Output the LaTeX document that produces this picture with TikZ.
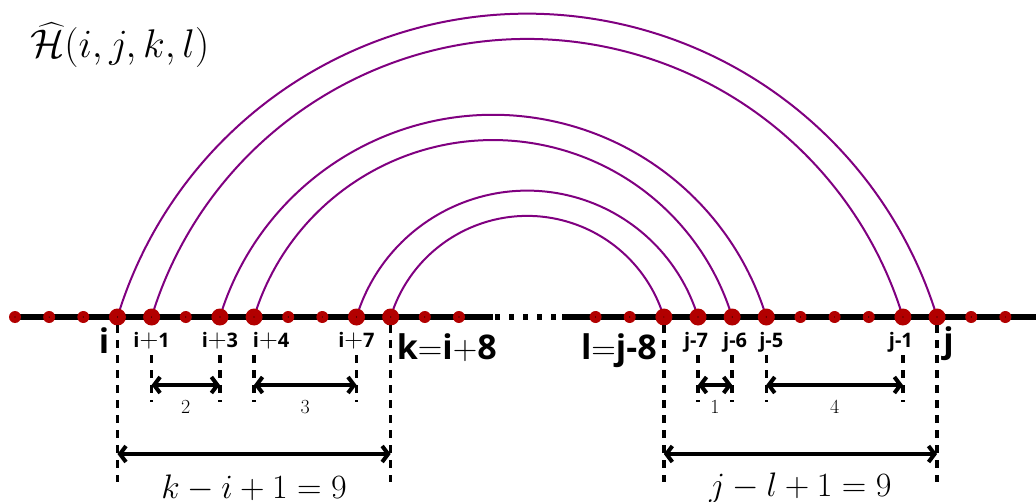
\documentclass[tikz,border=0pt]{standalone}
\usepackage{fix-cm}
\usepackage{amsmath}
\usepackage{fontspec}
\setsansfont{Open Sans}
\usetikzlibrary{arrows.meta,calc,backgrounds}
\definecolor{dotred}{RGB}{178,0,0}
\definecolor{arcpurple}{RGB}{128,0,128}
\newcommand{\bigplus}{{\fontsize{26}{26}\selectfont$+$}}
\begin{document}
\begin{tikzpicture}[x=1pt,y=1pt,
  dot/.style={circle,fill=dotred,inner sep=0pt,minimum size=12pt,
    path picture={\fill[black] (path picture bounding box.center) circle (0.6pt);}},
  bigdot/.style={dot,minimum size=17pt},
  arcline/.style={draw=arcpurple,line width=2pt},
  mainline/.style={line width=6pt},
  vdash/.style={line width=3.5pt,dash pattern=on 8pt off 7pt},
  dimarrow/.style={line width=4pt,{Straight Barb[length=6pt,width=16pt]}-{Straight Barb[length=6pt,width=16pt]}},
  smalllab/.style={font=\sffamily\bfseries\fontsize{20}{24}\selectfont,inner sep=0pt},
  biglab/.style={font=\sffamily\bfseries\fontsize{34}{40}\selectfont,inner sep=0pt},
  numlab/.style={font=\fontsize{20}{24}\selectfont,inner sep=0pt},
  eqlab/.style={font=\fontsize{34}{40}\selectfont,inner sep=0pt}]

\useasboundingbox (0,-184) rectangle (1036,317);

% points on the line
\foreach \n in {0,1,2,5,8,9,12,13,17,18,23,24,25,28,29}
  \node[dot] (p\n) at ({15+34.15*\n},0) {};
\foreach \n/\nm in {3/i,4/ip1,6/ip3,7/ip4,10/ip7,11/k,19/l,20/jm7,21/jm6,22/jm5,26/jm1,27/j}
  \node[bigdot] (\nm) at ({15+34.15*\n},0) {};

\begin{pgfonlayer}{background}
  \coordinate (L0) at (10,0);
  \coordinate (L1) at (493,0);
  \coordinate (D0) at (495,0);
  \coordinate (R0) at (562,0);
  \coordinate (R1) at (1036,0);
  \draw[mainline] (L0) -- (L1);
  \draw[mainline,dash pattern=on 5pt off 9pt] (D0) -- (R0);
  \draw[mainline] (R0) -- (R1);
  \foreach \a/\b in {i/j,ip1/jm1,ip3/jm5,ip4/jm6,ip7/jm7,k/l}
    \draw[arcline] let \p1=($(\b)-(\a)$) in
      (\a.center) arc[start angle=163,end angle=17,radius={\x1/(2*sin(73))}];
\end{pgfonlayer}

% dashed verticals
\foreach \nm in {i,k,l,j}
  \draw[vdash] ([yshift=-8pt]\nm.center) -- ([yshift=-165pt]\nm.center);
\foreach \nm in {ip1,ip3,ip4,ip7,jm7,jm6,jm5,jm1}
  \draw[vdash] ([yshift=-38pt]\nm.center) -- ([yshift=-85pt]\nm.center);

% dimension arrows
\draw[dimarrow] ([yshift=-68pt]ip1.center) -- node[numlab,yshift=-22pt]{$2$} ([yshift=-68pt]ip3.center);
\draw[dimarrow] ([yshift=-68pt]ip4.center) -- node[numlab,yshift=-22pt]{$3$} ([yshift=-68pt]ip7.center);
\draw[dimarrow] ([yshift=-68pt]jm7.center) -- node[numlab,yshift=-22pt]{$1$} ([yshift=-68pt]jm6.center);
\draw[dimarrow] ([yshift=-68pt]jm5.center) -- node[numlab,yshift=-22pt]{$4$} ([yshift=-68pt]jm1.center);
\draw[dimarrow] ([yshift=-137pt]i.center) -- node[eqlab,yshift=-34pt]{$k-i+1=9$} ([yshift=-137pt]k.center);
\draw[dimarrow] ([yshift=-137pt]l.center) -- node[eqlab,yshift=-34pt]{$j-l+1=9$} ([yshift=-137pt]j.center);

% point labels
\node[biglab,anchor=base east] (ti) at ([xshift=-8pt,yshift=-36pt]i.center) {i};
\node[biglab,anchor=base west] (tk) at ([xshift=6pt,yshift=-42pt]k.center) {k$=$i$+$8};
\node[biglab,anchor=base east] (tl) at ([xshift=-7pt,yshift=-42pt]l.center) {l$=$j-8};
\node[biglab,anchor=base west] (tj) at ([xshift=6pt,yshift=-35pt]j.center) {j};
\node[smalllab,anchor=base] (tip1) at ([yshift=-30pt]ip1.center) {i\bigplus1};
\node[smalllab,anchor=base] (tip3) at ([yshift=-30pt]ip3.center) {i\bigplus3};
\node[smalllab,anchor=base] (tip4) at ([xshift=17pt,yshift=-30pt]ip4.center) {i\bigplus4};
\node[smalllab,anchor=base] (tip7) at ([yshift=-30pt]ip7.center) {i\bigplus7};
\node[smalllab,anchor=base] (tjm7) at ([xshift=-2pt,yshift=-30pt]jm7.center) {j-7};
\node[smalllab,anchor=base] (tjm6) at ([xshift=3pt,yshift=-30pt]jm6.center) {j-6};
\node[smalllab,anchor=base] (tjm5) at ([xshift=5pt,yshift=-30pt]jm5.center) {j-5};
\node[smalllab,anchor=base] (tjm1) at ([xshift=-2pt,yshift=-30pt]jm1.center) {j-1};

% title
\node[anchor=base west,inner sep=0pt,font=\fontsize{40}{48}\selectfont] (title) at (30,259) {$\widehat{\mathcal{H}}(i,j,k,l)$};
\end{tikzpicture}
\end{document}
